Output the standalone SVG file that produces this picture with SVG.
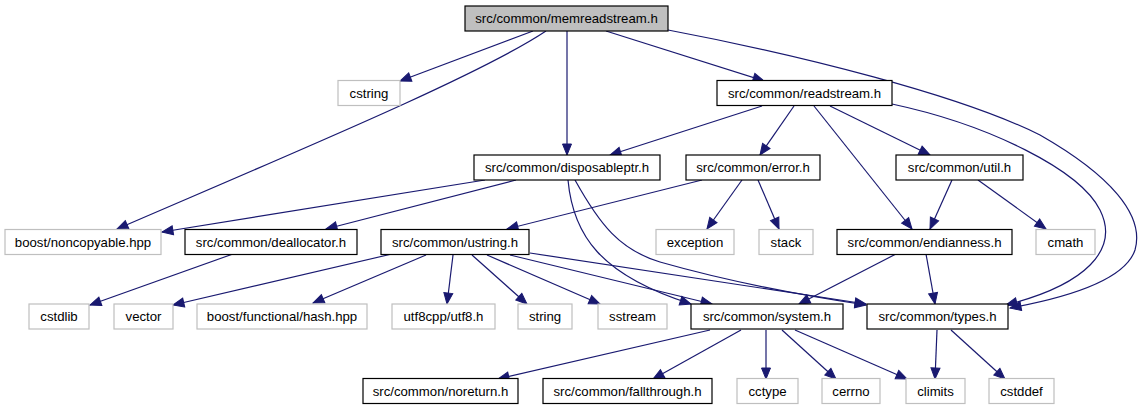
<svg xmlns="http://www.w3.org/2000/svg" width="1143" height="411" viewBox="0 0 1143 411">
<style>
  .n rect { fill: #ffffff; stroke: #000000; stroke-width: 1.2; }
  .x rect { fill: #ffffff; stroke: #bfbfbf; stroke-width: 1.2; }
  .root rect { fill: #bfbfbf; stroke: #000000; stroke-width: 1.2; }
  text { font-family: "Liberation Sans", Arial, Helvetica, sans-serif; font-size: 13.2px; fill: #000000; text-anchor: middle; }
  #edges path { fill: none; stroke: #191970; stroke-width: 1.2; marker-end: url(#arr); }
</style>
<defs>
  <marker id="arr" markerUnits="userSpaceOnUse" markerWidth="14" markerHeight="12" refX="11" refY="4.5" orient="auto" overflow="visible">
    <path d="M0,0 L11,4.5 L0,9 z" fill="#191970" stroke="#191970" stroke-width="1"/>
  </marker>
</defs>
<rect x="0" y="0" width="1143" height="411" fill="#ffffff"/>

<g id="edges">
  <path d="M533,31 L400,81"/>
  <path d="M546,31 C480,75 300,150 117,229"/>
  <path d="M567,31 L567,155"/>
  <path d="M606,31 L764,81"/>
  <path d="M668,30 C800,55 960,95 1040,135 C1110,175 1145,215 1135,250 C1125,280 1070,297 1010,308"/>
  <path d="M762,106 L610,155"/>
  <path d="M794,106 L760,155"/>
  <path d="M814,106 L912,229"/>
  <path d="M830,106 L930,155"/>
  <path d="M892,104 C990,125 1080,170 1100,210 C1120,250 1085,285 1006,305"/>
  <path d="M485,180 L162,232"/>
  <path d="M516,180 L326,229"/>
  <path d="M568,180 C573,235 600,275 691,304"/>
  <path d="M575,180 C600,225 620,250 660,262 C730,282 800,295 866,305"/>
  <path d="M702,180 L507,229"/>
  <path d="M742,180 L707,229"/>
  <path d="M758,180 L779,229"/>
  <path d="M952,180 L930,229"/>
  <path d="M978,180 L1046,229"/>
  <path d="M233,254 L90,305"/>
  <path d="M896,254 L799,304"/>
  <path d="M926,254 L935,304"/>
  <path d="M392,254 L173,305"/>
  <path d="M426,255 L313,303"/>
  <path d="M453,255 L447,304"/>
  <path d="M472,255 L527,304"/>
  <path d="M487,255 L600,304"/>
  <path d="M510,255 L712,304"/>
  <path d="M530,253 L866,304"/>
  <path d="M710,330 L498,379"/>
  <path d="M741,330 L653,379"/>
  <path d="M766,330 L766,379"/>
  <path d="M782,330 L836,379"/>
  <path d="M795,330 L907,379"/>
  <path d="M937,330 L935,379"/>
  <path d="M951,330 L1005,379"/>
</g>

<g id="memreadstream" class="root"><rect x="465" y="6" width="203" height="25"/><text x="566.5" y="23">src/common/memreadstream.h</text></g>

<g id="cstring" class="x"><rect x="338" y="80.5" width="62" height="25"/><text x="369" y="97.5">cstring</text></g>
<g id="readstream" class="n"><rect x="717" y="80.5" width="175" height="25"/><text x="804.5" y="97.5">src/common/readstream.h</text></g>

<g id="disposableptr" class="n"><rect x="474" y="155" width="186" height="25"/><text x="567" y="172">src/common/disposableptr.h</text></g>
<g id="error" class="n"><rect x="686" y="155" width="134" height="25"/><text x="753" y="172">src/common/error.h</text></g>
<g id="util" class="n"><rect x="896" y="155" width="127" height="25"/><text x="959.5" y="172">src/common/util.h</text></g>

<g id="noncopyable" class="x"><rect x="5" y="229.5" width="156" height="25"/><text x="83" y="246.5">boost/noncopyable.hpp</text></g>
<g id="deallocator" class="n"><rect x="185" y="229.5" width="172" height="25"/><text x="271" y="246.5">src/common/deallocator.h</text></g>
<g id="ustring" class="n"><rect x="381" y="229.5" width="148" height="25"/><text x="455" y="246.5">src/common/ustring.h</text></g>
<g id="exception" class="x"><rect x="656" y="229.5" width="78" height="25"/><text x="695" y="246.5">exception</text></g>
<g id="stack" class="x"><rect x="759" y="229.5" width="54" height="25"/><text x="786" y="246.5">stack</text></g>
<g id="endianness" class="n"><rect x="837" y="229.5" width="175" height="25"/><text x="924.5" y="246.5">src/common/endianness.h</text></g>
<g id="cmath" class="x"><rect x="1036" y="229.5" width="59" height="25"/><text x="1065.5" y="246.5">cmath</text></g>

<g id="cstdlib" class="x"><rect x="29" y="304" width="60" height="25"/><text x="59" y="321">cstdlib</text></g>
<g id="vector" class="x"><rect x="114" y="304" width="59" height="25"/><text x="143.5" y="321">vector</text></g>
<g id="hash" class="x"><rect x="197" y="304" width="170" height="25"/><text x="282" y="321">boost/functional/hash.hpp</text></g>
<g id="utf8" class="x"><rect x="392" y="304" width="103" height="25"/><text x="443.5" y="321">utf8cpp/utf8.h</text></g>
<g id="string" class="x"><rect x="518" y="304" width="54" height="25"/><text x="545" y="321">string</text></g>
<g id="sstream" class="x"><rect x="598" y="304" width="69" height="25"/><text x="632.5" y="321">sstream</text></g>
<g id="system" class="n"><rect x="691" y="304" width="152" height="25"/><text x="767" y="321">src/common/system.h</text></g>
<g id="types" class="n"><rect x="867" y="304" width="141" height="25"/><text x="937.5" y="321">src/common/types.h</text></g>

<g id="noreturn" class="n"><rect x="363" y="378.5" width="155" height="25"/><text x="440.5" y="395.5">src/common/noreturn.h</text></g>
<g id="fallthrough" class="n"><rect x="543" y="378.5" width="169" height="25"/><text x="627.5" y="395.5">src/common/fallthrough.h</text></g>
<g id="cctype" class="x"><rect x="737" y="378.5" width="61" height="25"/><text x="767.5" y="395.5">cctype</text></g>
<g id="cerrno" class="x"><rect x="822" y="378.5" width="58" height="25"/><text x="851" y="395.5">cerrno</text></g>
<g id="climits" class="x"><rect x="906" y="378.5" width="59" height="25"/><text x="935.5" y="395.5">climits</text></g>
<g id="cstddef" class="x"><rect x="989" y="378.5" width="65" height="25"/><text x="1021.5" y="395.5">cstddef</text></g>
</svg>
